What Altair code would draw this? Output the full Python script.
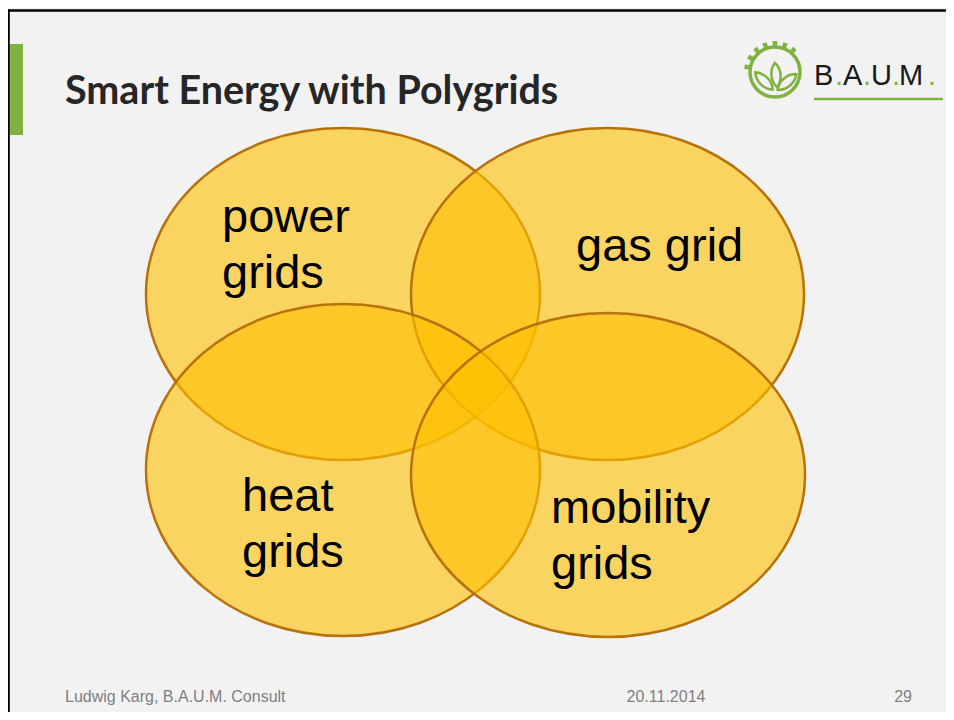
import altair as alt
import pandas as pd
import numpy as np

W, H = 938, 704
XD = [8, 946]
YD = [8, 712]

# ---- data ----
ell_names = ["power grids", "gas grid", "heat grids", "mobility grids"]
ell_cx = [343, 607.5, 343, 608]
ell_cy = [294, 294, 470, 475]
ell_rx = [197, 196.5, 197, 197]
ell_ry = [166, 166, 166, 162]

label_text = ["power", "grids", "gas grid", "heat", "grids", "mobility", "grids"]
label_x = [222, 222, 576, 242, 242, 551, 551]
label_y = [232, 288, 261, 511, 567, 523, 579]

title_text = ["Smart Energy with Polygrids"]
footer_text = ["Ludwig Karg, B.A.U.M. Consult", "20.11.2014", "29"]
footer_x = [65, 666, 912]
footer_align = ["left", "center", "right"]

logo_chars = ["B", "A", "U", "M"]
logo_char_x = [814, 843, 871, 899]
logo_dot_x = [835, 863, 892, 928]
tooth_deg = [-80, -60, -40, -20, 0, 20, 40]
leaf_x = [764, 776, 787]
leaf_y = [81, 75, 82]
leaf_angle = [-45, -5, 50]

GREEN = "#7FB241"

xs = alt.Scale(domain=XD, nice=False, zero=False)
ys = alt.Scale(domain=YD, nice=False, zero=False, reverse=True)


def X(f):
    return alt.X(f, type="quantitative", scale=xs, axis=None)


def Y(f):
    return alt.Y(f, type="quantitative", scale=ys, axis=None)


# ellipses
paths = []
sizes = []
for rx, ry in zip(ell_rx, ell_ry):
    k = ry / rx
    paths.append(f"M-1,0A1,{k:.4f} 0 1,0 1,0A1,{k:.4f} 0 1,0 -1,0Z")
    sizes.append((2 * rx) ** 2)
ell_df = pd.DataFrame({"name": ell_names, "x": ell_cx, "y": ell_cy, "path": paths, "size": sizes})
ellipses = alt.Chart(ell_df).mark_point(
    filled=True, fill="#FFC000", fillOpacity=0.6, stroke="#B8720C", strokeWidth=2.5, opacity=1
).encode(
    x=X("x"), y=Y("y"),
    shape=alt.Shape("path:N", scale=None),
    size=alt.Size("size:Q", scale=None),
)

labels = alt.Chart(pd.DataFrame({"t": label_text, "x": label_x, "y": label_y})).mark_text(
    align="left", baseline="alphabetic", font="Liberation Sans", fontSize=47, color="#000000"
).encode(x=X("x"), y=Y("y"), text="t:N")

title = alt.Chart(pd.DataFrame({"t": title_text, "x": [65], "y": [104]})).mark_text(
    align="left", baseline="alphabetic", font="Lato", fontWeight="bold", fontSize=39.5, color="#262626"
).encode(x=X("x"), y=Y("y"), text="t:N")

footer = alt.layer(*[
    alt.Chart(pd.DataFrame({"t": [t], "x": [fx], "y": [702]})).mark_text(
        align=a, baseline="alphabetic", font="Liberation Sans", fontSize=16, color="#7F7F7F"
    ).encode(x=X("x"), y=Y("y"), text="t:N")
    for t, fx, a in zip(footer_text, footer_x, footer_align)
])

# frame decorations (kept inside the plot area)
top_line = alt.Chart(pd.DataFrame({"x": [8], "x2": [946], "y": [10.5]})).mark_rule(
    color="#000000", strokeWidth=2.5
).encode(x=X("x"), x2="x2:Q", y=Y("y"))
left_line = alt.Chart(pd.DataFrame({"x": [8.8], "y": [9.5], "y2": [712]})).mark_rule(
    color="#000000", strokeWidth=2
).encode(x=X("x"), y=Y("y"), y2="y2:Q")
green_bar = alt.Chart(pd.DataFrame({"x": [9.8], "x2": [23], "y": [44], "y2": [135]})).mark_rect(
    color=GREEN
).encode(x=X("x"), x2="x2:Q", y=Y("y"), y2="y2:Q")

# logo
ring = alt.Chart(pd.DataFrame({"x": [775], "y": [72]})).mark_point(
    shape="circle", size=2500, filled=False, stroke=GREEN, strokeWidth=3.5, opacity=1
).encode(x=X("x"), y=Y("y"))
teeth_df = pd.DataFrame({
    "x": [775] * len(tooth_deg), "y": [72] * len(tooth_deg),
    "t0": [np.deg2rad(d - 4.5) for d in tooth_deg],
    "t1": [np.deg2rad(d + 4.5) for d in tooth_deg],
})
teeth = alt.Chart(teeth_df).mark_arc(color=GREEN, radius=31, radius2=25).encode(
    x=X("x"), y=Y("y"),
    theta=alt.Theta("t0:Q", scale=None), theta2="t1:Q",
)
leaf_path = "M0,1C-0.55,0.4 -0.45,-0.5 0,-1C0.45,-0.5 0.55,0.4 0,1Z"
leaves = alt.Chart(pd.DataFrame({"x": leaf_x, "y": leaf_y, "a": leaf_angle})).mark_point(
    shape=leaf_path, size=600, filled=False, stroke=GREEN, strokeWidth=2.5, opacity=1
).encode(x=X("x"), y=Y("y"), angle=alt.Angle("a:Q", scale=None))

logo_letters = alt.Chart(pd.DataFrame({"t": logo_chars, "x": logo_char_x, "y": [85] * 4})).mark_text(
    align="left", baseline="alphabetic", font="Liberation Sans", fontSize=29, color="#1A1A1A"
).encode(x=X("x"), y=Y("y"), text="t:N")
logo_dots = alt.Chart(pd.DataFrame({"t": ["."] * 4, "x": logo_dot_x, "y": [85] * 4})).mark_text(
    align="left", baseline="alphabetic", font="Liberation Sans", fontSize=29, color=GREEN
).encode(x=X("x"), y=Y("y"), text="t:N")
logo_line = alt.Chart(pd.DataFrame({"x": [814], "x2": [943], "y": [99]})).mark_rule(
    color=GREEN, strokeWidth=2.5
).encode(x=X("x"), x2="x2:Q", y=Y("y"))

chart = alt.layer(
    green_bar, top_line, left_line, ellipses, labels, title, footer,
    ring, teeth, leaves, logo_letters, logo_dots, logo_line,
).properties(
    width=W, height=H, padding=0, background="#F2F2F2",
    autosize=alt.AutoSizeParams(type="none"),
).configure_view(strokeWidth=0)

chart.save("out.html", embed_options={"renderer": "svg", "actions": False})
